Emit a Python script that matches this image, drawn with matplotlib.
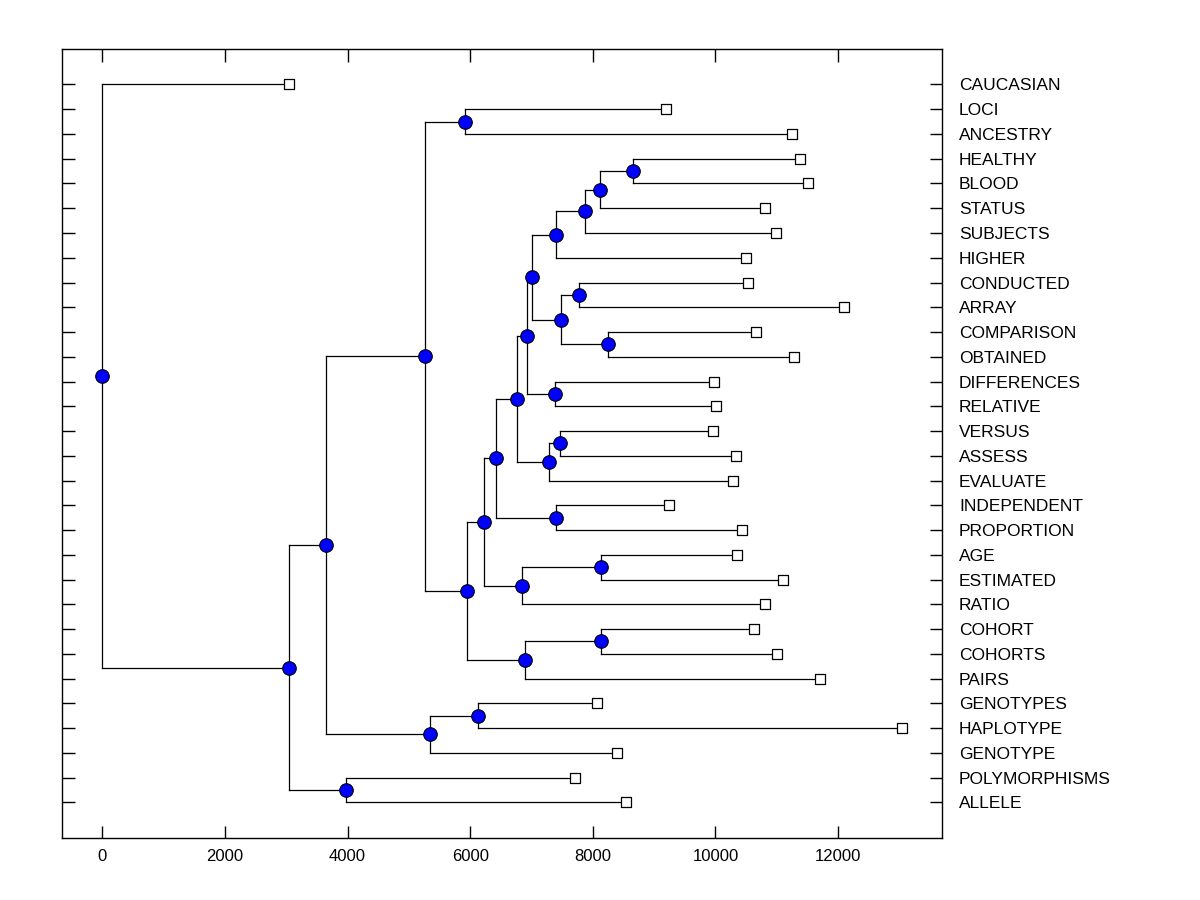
import matplotlib
matplotlib.use("Agg")
import matplotlib.pyplot as plt

plt.rcParams['font.family'] = ['Liberation Sans', 'DejaVu Sans']

leaf_names = ["CAUCASIAN", "LOCI", "ANCESTRY", "HEALTHY", "BLOOD", "STATUS",
              "SUBJECTS", "HIGHER", "CONDUCTED", "ARRAY", "COMPARISON", "OBTAINED",
              "DIFFERENCES", "RELATIVE", "VERSUS", "ASSESS", "EVALUATE",
              "INDEPENDENT", "PROPORTION", "AGE", "ESTIMATED", "RATIO", "COHORT",
              "COHORTS", "PAIRS", "GENOTYPES", "HAPLOTYPE", "GENOTYPE",
              "POLYMORPHISMS", "ALLELE"]
leaf_values = [3051, 9201, 11251, 11387, 11517, 10816,
               10995, 10506, 10538, 12104, 10659, 11279,
               9978, 10010, 9962, 10338, 10289,
               9250, 10436, 10354, 11104, 10811, 10631,
               11006, 11708, 8070, 13046, 8396,
               7711, 8543]

# internal nodes (ids 30..58): left child, right child, value
node_left = [3, 30, 31, 32, 8, 10, 34, 33, 12, 37, 14, 40, 39, 17, 42,
             19, 45, 44, 22, 48, 47, 1, 51, 25, 53, 52, 28, 55, 0]
node_right = [4, 5, 6, 7, 9, 11, 35, 36, 13, 38, 15, 16, 41, 18, 43,
              20, 21, 46, 23, 24, 49, 2, 50, 26, 27, 54, 29, 56, 57]
node_values = [8662, 8124, 7879, 7406, 7781, 8254, 7488, 7015, 7390, 6933,
               7472, 7292, 6770, 7406, 6417, 8140, 6852, 6232, 8140, 6900,
               5954, 5922, 5269, 6132, 5346, 3650, 3979, 3051, 0]

n_leaf = len(leaf_names)
xs = {}
ys = {}
for i, v in enumerate(leaf_values):
    xs[i] = v
    ys[i] = n_leaf - 1 - i
for k, (a, b, v) in enumerate(zip(node_left, node_right, node_values)):
    nid = n_leaf + k
    xs[nid] = v
    ys[nid] = (ys[a] + ys[b]) / 2.0

fig = plt.figure(figsize=(12, 9), dpi=100)
ax = fig.add_axes([62.3 / 1200, 1 - 838.3 / 900, (942.3 - 62.3) / 1200, (838.3 - 49.3) / 900])

lw = 0.9
for k, (a, b) in enumerate(zip(node_left, node_right)):
    nid = n_leaf + k
    x = xs[nid]
    ax.plot([x, x], [ys[a], ys[b]], color='black', lw=lw, zorder=1)
    for c in (a, b):
        ax.plot([x, xs[c]], [ys[c], ys[c]], color='black', lw=lw, zorder=1)

ax.scatter([xs[i] for i in range(n_leaf)], [ys[i] for i in range(n_leaf)],
           marker='s', s=42, facecolor='white', edgecolor='black', linewidths=0.9, zorder=3)
ax.scatter([xs[n_leaf + k] for k in range(len(node_values))],
           [ys[n_leaf + k] for k in range(len(node_values))],
           marker='o', s=95, facecolor='#0000ff', edgecolor='black', linewidths=0.8, zorder=4)

ax.set_xlim(-652, 13700)
ax.set_ylim(-1.45, n_leaf - 1 + 1.42)
ax.set_xticks(range(0, 13000, 2000))
ax.set_xticklabels([str(v) for v in range(0, 13000, 2000)])
ax.set_yticks([ys[i] for i in range(n_leaf)])
ax.set_yticklabels(leaf_names)
ax.tick_params(axis='x', direction='in', length=9, width=1, top=True, bottom=True,
               labelsize=12, pad=8)
ax.tick_params(axis='y', direction='in', length=9, width=1, left=True, right=True,
               labelleft=False, labelright=True, labelsize=12.5, pad=12)
for s in ax.spines.values():
    s.set_linewidth(1)

fig.savefig("out.png", dpi=100)
